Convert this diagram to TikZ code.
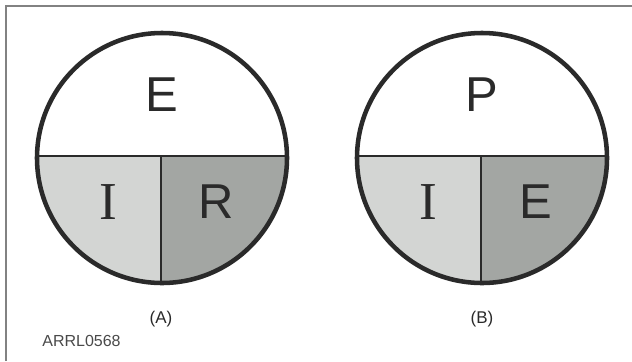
\documentclass[tikz,border=0pt]{standalone}
\usepackage{fontspec}
\setmainfont{Liberation Sans}
\newfontfamily\serifI{Liberation Serif}
\definecolor{lightq}{RGB}{211,213,211}
\definecolor{darkq}{RGB}{163,166,163}
\definecolor{ink}{RGB}{42,42,42}
\definecolor{framegray}{RGB}{130,130,130}
\begin{document}
\begin{tikzpicture}[x=0.75pt,y=-0.75pt,
  ring/.style={draw=ink,line width=3.4pt},
  divider/.style={draw=ink,line width=1.4pt},
  big/.style={font=\fontsize{36.75}{40}\selectfont,text=ink,inner sep=0pt},
  bigI/.style={font=\serifI\fontsize{40}{44}\selectfont,text=ink,inner sep=0pt},
  caption/.style={font=\fontsize{12.75}{14}\selectfont,text=ink,inner sep=0pt},
  tag/.style={font=\fontsize{12}{14}\selectfont,text=ink!85,inner sep=0pt},
  framestyle/.style={draw=framegray,line width=1.3pt}]
\useasboundingbox (0,0) rectangle (632,361);
\fill[white] (0,0) rectangle (632,361);
\draw[framestyle] (6,361) -- (6,6) -- (632,6);

\foreach \nm/\cx in {A/162,B/482}{
  \coordinate (c\nm) at (\cx,158);
  \begin{scope}
    \clip (c\nm) circle[radius=93.75pt];
    \fill[lightq] (\cx-130,156) rectangle (\cx-1,290);
    \fill[darkq] (\cx-1,156) rectangle (\cx+130,290);
    \draw[divider] (\cx-130,156) -- (\cx+130,156);
    \draw[divider] (\cx-1,156) -- (\cx-1,290);
  \end{scope}
  \draw[ring] (c\nm) circle[radius=93.75pt];
}

\node[big] (topA) at (161.5,95) {E};
\node[bigI] (iA) at (108,202) {I};
\node[big] (rA) at (216,202) {R};
\node[caption] (capA) at (161,319) {(A)};

\node[big] (topB) at (482,95) {P};
\node[bigI] (iB) at (428,202) {I};
\node[big] (eB) at (536,202) {E};
\node[caption] (capB) at (482,319) {(B)};

\node[tag] (code) at (81.5,341) {ARRL0568};
\end{tikzpicture}
\end{document}
